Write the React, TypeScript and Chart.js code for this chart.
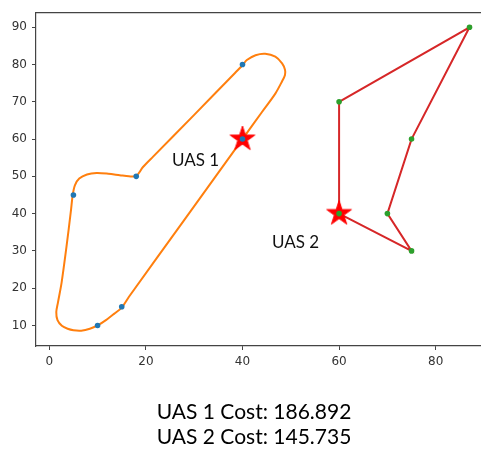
import { useEffect, useRef } from "react";
import { Chart, registerables } from "chart.js";

Chart.register(...registerables);

type Pt = [number, number];

// Waypoints visited by each aircraft
const UAS1_WAYPOINTS: Pt[] = [[40, 80], [40, 60], [18, 50], [5, 45], [10, 10], [15, 15]];
const UAS2_WAYPOINTS: Pt[] = [[60, 70], [87, 90], [75, 60], [70, 40], [75, 30], [60, 40]];

// Launch points (star markers)
const START_POINTS: Pt[] = [[40, 60], [60, 40]];

// Flown route of UAS 1 (smooth turning path)
const UAS1_PATH: Pt[] = [
  [40, 60], [44, 67.2], [46.8, 72.2], [48.2, 75.5], [48.8, 77.2], [48.8, 78.6],
  [48.2, 80.3], [46.8, 82.1], [44.7, 82.9], [42.7, 82.5], [40.9, 81.2], [40, 79.8],
  [38.5, 77.8], [30, 66.5], [21.5, 55.3], [19.4, 52.5], [18, 50.1],
  [16.5, 50.0], [14.6, 50.3], [12.2, 50.7], [9.8, 50.9], [7.8, 50.5], [6.2, 49.4],
  [5.3, 47.6], [4.85, 45], [4.5, 41], [3.55, 31], [2.55, 21.5], [1.8, 16.2],
  [1.45, 13.6], [1.7, 11.4], [2.6, 9.9], [3.8, 9.1], [5, 8.7], [6.6, 8.6], [8.4, 9.1],
  [10, 10], [11.8, 11.5], [13.4, 13.1], [15, 14.8], [16.5, 17.7], [28, 38.4], [40, 60],
];

// Flown route of UAS 2 (straight legs)
const UAS2_PATH: Pt[] = [[60, 40], [60, 70], [87, 90], [75, 60], [70, 40], [75, 30], [60, 40]];

const X_TICKS = [0, 20, 40, 60, 80];
const Y_TICKS = [10, 20, 30, 40, 50, 60, 70, 80, 90];
const X_RANGE: [number, number] = [-2.75, 89.38];
const Y_RANGE: [number, number] = [4.48, 94.04];

const ROUTE_NAMES = ["UAS 1", "UAS 2"];
const ROUTE_LABEL_POS: Pt[] = [[25.4, 52.75], [46.1, 30.7]];
const ROUTE_COSTS = [186.892, 145.735];

const W = 481;
const H = 454;

function makeStar(outer: number, color: string): HTMLCanvasElement {
  const size = Math.ceil(outer * 2 + 4);
  const c = document.createElement("canvas");
  c.width = size;
  c.height = size;
  const ctx = c.getContext("2d")!;
  const cx = size / 2;
  const cy = size / 2;
  const inner = outer * 0.382;
  ctx.beginPath();
  for (let i = 0; i < 10; i++) {
    const r = i % 2 === 0 ? outer : inner;
    const a = -Math.PI / 2 + (i * Math.PI) / 5;
    const x = cx + r * Math.cos(a);
    const y = cy + r * Math.sin(a);
    if (i === 0) ctx.moveTo(x, y);
    else ctx.lineTo(x, y);
  }
  ctx.closePath();
  ctx.fillStyle = color;
  ctx.fill();
  ctx.strokeStyle = color;
  ctx.lineWidth = 1;
  ctx.stroke();
  return c;
}

const toXY = (pts: Pt[]) => pts.map(([x, y]) => ({ x, y }));

export default function App() {
  const canvasRef = useRef<HTMLCanvasElement | null>(null);

  useEffect(() => {
    const canvas = canvasRef.current;
    if (!canvas) return;
    const star = makeStar(13, "#ff0000");

    const framePlugin = {
      id: "frameAndLabels",
      afterDatasetsDraw(chart: any) {
        const { ctx, chartArea } = chart;
        ctx.save();
        ctx.strokeStyle = "#444";
        ctx.lineWidth = 1.2;
        ctx.beginPath();
        ctx.moveTo(chartArea.left, chartArea.top + 0.5);
        ctx.lineTo(chartArea.right, chartArea.top + 0.5);
        ctx.stroke();

        const xs = chart.scales.x;
        const ys = chart.scales.y;
        ctx.fillStyle = "#111";
        ctx.font = "17px Lato";
        ctx.textAlign = "left";
        ctx.textBaseline = "alphabetic";
        ROUTE_NAMES.forEach((name, i) => {
          const [lx, ly] = ROUTE_LABEL_POS[i];
          ctx.fillText(name, xs.getPixelForValue(lx), ys.getPixelForValue(ly));
        });
        ctx.restore();
      },
    };

    const axisCommon = {
      type: "linear" as const,
      border: { display: true, color: "#444", width: 1.2 },
      grid: {
        display: true,
        drawOnChartArea: false,
        drawTicks: true,
        tickLength: 4,
        color: "#444",
        lineWidth: 1,
      },
    };

    const chart = new Chart(canvas, {
      type: "scatter",
      data: {
        datasets: [
          {
            data: toXY(UAS1_WAYPOINTS),
            backgroundColor: "#1f77b4",
            borderWidth: 0,
            pointRadius: 2.8,
            order: 0,
          },
          {
            data: toXY(UAS2_WAYPOINTS),
            backgroundColor: "#2ca02c",
            borderWidth: 0,
            pointRadius: 2.8,
            order: 0,
          },
          {
            data: toXY(START_POINTS),
            pointStyle: star as any,
            pointRadius: 13,
            order: 1,
          },
          {
            data: toXY(UAS1_PATH),
            showLine: true,
            borderColor: "#ff7f0e",
            borderWidth: 2,
            pointRadius: 0,
            tension: 0.3,
            order: 2,
          },
          {
            data: toXY(UAS2_PATH),
            showLine: true,
            borderColor: "#d62728",
            borderWidth: 2,
            pointRadius: 0,
            tension: 0,
            order: 2,
          },
        ],
      },
      options: {
        animation: false,
        responsive: false,
        devicePixelRatio: 1,
        layout: { autoPadding: false, padding: { top: 7, left: 0, right: 0, bottom: 0 } },
        plugins: { legend: { display: false }, tooltip: { enabled: false } },
        scales: {
          x: {
            ...axisCommon,
            position: "bottom",
            min: X_RANGE[0],
            max: X_RANGE[1],
            afterBuildTicks: (s: any) => {
              s.ticks = X_TICKS.map((v) => ({ value: v }));
            },
            afterFit: (s: any) => {
              s.height = H - 346;
            },
            ticks: {
              autoSkip: false,
              maxRotation: 0,
              padding: 5,
              color: "#333",
              font: { family: "DejaVu Sans", size: 12 },
            },
          },
          y: {
            ...axisCommon,
            position: "left",
            min: Y_RANGE[0],
            max: Y_RANGE[1],
            afterBuildTicks: (s: any) => {
              s.ticks = Y_TICKS.map((v) => ({ value: v }));
            },
            afterFit: (s: any) => {
              s.width = 36;
            },
            ticks: {
              autoSkip: false,
              padding: 5,
              color: "#333",
              font: { family: "DejaVu Sans", size: 12 },
            },
          },
        },
      },
      plugins: [framePlugin],
    });

    return () => chart.destroy();
  }, []);

  return (
    <div style={{ position: "absolute", left: 0, top: 0, width: W, height: H, background: "#fff", overflow: "hidden" }}>
      <canvas ref={canvasRef} width={W} height={H} style={{ display: "block", width: W, height: H }} />
      <div
        style={{
          position: "absolute",
          left: 0,
          top: 398,
          width: 508,
          textAlign: "center",
          fontFamily: "Lato, sans-serif",
          fontSize: 21,
          lineHeight: "25px",
          color: "#000",
        }}
      >
        {ROUTE_NAMES.map((name, i) => (
          <div key={name}>{`${name} Cost: ${ROUTE_COSTS[i].toFixed(3)}`}</div>
        ))}
      </div>
    </div>
  );
}
